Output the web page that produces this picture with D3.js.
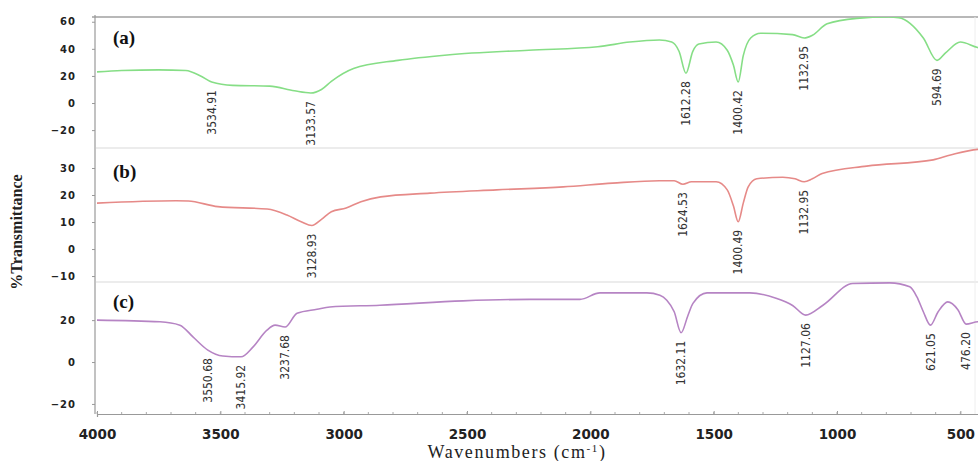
<!DOCTYPE html>
<html>
<head>
<meta charset="utf-8">
<script src="https://cdn.jsdelivr.net/npm/d3@7"></script>
<style>
  body { margin: 0; background: #fff; }
  svg { display: block; }
</style>
</head>
<body>
<svg id="chart" width="978" height="461"></svg>
<script>
// spectrum (a) - green
var wnA = [4000, 3900, 3750, 3640, 3580, 3534.91, 3450, 3300, 3200, 3133.57, 3090, 3050, 2960, 2780, 2580, 2250, 1970, 1840, 1720, 1670, 1640, 1612.28, 1585, 1560, 1490, 1445, 1420, 1400.42, 1380, 1350, 1310, 1180, 1132.95, 1100, 1040, 920, 790, 750, 650, 594.69, 560, 500, 430, 400];
var valA = [23, 24, 24.5, 24, 20, 15.5, 13, 12.5, 9, 7.4, 10, 16, 25.5, 31.5, 35.5, 39, 41.5, 45, 46.5, 45, 38, 22, 38, 43.5, 45, 39, 28, 15.5, 35, 48, 51.5, 50.5, 48, 50, 58.5, 62.5, 63.5, 63, 48, 31.5, 37, 45, 41, 40];

// spectrum (b) - red
var wnB = [4000, 3680, 3630, 3510, 3310, 3230, 3170, 3128.93, 3090, 3050, 2990, 2930, 2850, 2650, 2380, 2110, 1910, 1720, 1660, 1624.53, 1590, 1490, 1445, 1420, 1400.49, 1380, 1360, 1325, 1220, 1170, 1132.95, 1100, 1060, 880, 610, 540, 430, 400];
var valB = [17, 17.9, 17.8, 15.7, 14.8, 12.6, 10, 8.7, 11, 13.8, 15.2, 17.5, 19.3, 20.7, 21.9, 23, 24.4, 25.3, 25.3, 24, 24.9, 24.9, 21.9, 16, 10.1, 17, 23, 26, 26.6, 26, 24.9, 26, 28, 30.7, 33, 34.8, 36.9, 37];

// spectrum (c) - purple
var wnC = [4000, 3745, 3664, 3611, 3550.68, 3490, 3415.92, 3368, 3311, 3278, 3237.68, 3189, 3108, 3056, 2853, 2516, 2245, 2042, 1961, 1771, 1718, 1690, 1660, 1632.11, 1605, 1584, 1527, 1353, 1244, 1180, 1127.06, 1057, 936, 786, 705, 676, 650, 621.05, 590, 551, 510, 476.2, 429, 400];
var valC = [20, 19.2, 17.6, 12, 5.7, 2.9, 2.5, 7.1, 15.2, 17.6, 16.7, 23.3, 25.2, 26.3, 27.1, 29.2, 29.9, 29.9, 33, 33, 31.9, 29.5, 24, 14, 22, 28, 33, 33, 30.3, 27, 22.4, 27.1, 37.5, 37.8, 35.9, 31.1, 24, 17.6, 24, 28.7, 25, 18.1, 19.2, 19];

// labelled peaks
var peaksA = ["3534.91", "3133.57", "1612.28", "1400.42", "1132.95", "594.69"];
var peaksB = ["3128.93", "1624.53", "1400.49", "1132.95"];
var peaksC = ["3550.68", "3415.92", "3237.68", "1632.11", "1127.06", "621.05", "476.20"];

var xTicks = [4000, 3500, 3000, 2500, 2000, 1500, 1000, 500];
var yTicksA = [-20, 0, 20, 40, 60];
var yTicksB = [-10, 0, 10, 20, 30];
var yTicksC = [-20, 0, 20];

var svg = d3.select("#chart");

var x = d3.scaleLinear().domain([4000, 400]).range([97, 985]);

var panels = [
  {name: "(a)", wn: wnA, val: valA, peaks: peaksA, ticks: yTicksA, dom: [-33.2, 63.5], rng: [148, 17], color: "#86de86", labelY: 44},
  {name: "(b)", wn: wnB, val: valB, peaks: peaksB, ticks: yTicksB, dom: [-12.2, 37.4], rng: [282, 148], color: "#e68a88", labelY: 178},
  {name: "(c)", wn: wnC, val: valC, peaks: peaksC, ticks: yTicksC, dom: [-24.8, 38.2], rng: [414, 282], color: "#b684c4", labelY: 308}
];

svg.append("defs").append("clipPath").attr("id", "plotclip")
  .append("rect").attr("x", 96).attr("y", 17).attr("width", 882).attr("height", 397);

// faint panel separators and frame
svg.append("line").attr("x1", 92).attr("x2", 978).attr("y1", 17).attr("y2", 17)
  .attr("stroke", "#a0a0a0").attr("stroke-width", 1.5);
[148, 282].forEach(function(yy) {
  svg.append("line").attr("x1", 96).attr("x2", 978).attr("y1", yy).attr("y2", yy)
    .attr("stroke", "#ececec").attr("stroke-width", 2);
});
svg.append("line").attr("x1", 975).attr("x2", 975).attr("y1", 17).attr("y2", 414)
  .attr("stroke", "#eeeeee").attr("stroke-width", 1);

panels.forEach(function(p) {
  var y = d3.scaleLinear().domain(p.dom).range(p.rng);
  var pts = p.wn.map(function(w, i) { return [w, p.val[i]]; });

  var yAxis = svg.append("g")
    .attr("transform", "translate(95,0)")
    .call(d3.axisLeft(y).tickValues(p.ticks).tickSize(3).tickPadding(16).tickFormat(d3.format("d")));
  yAxis.select(".domain").remove();
  yAxis.selectAll("line").attr("stroke", "#999");
  yAxis.selectAll("text")
    .style("font-family", "'DejaVu Sans', Verdana, sans-serif")
    .style("font-weight", "bold")
    .style("font-size", "10px")
    .style("letter-spacing", "1px")
    .attr("fill", "#222");

  var line = d3.line()
    .x(function(d) { return x(d[0]); })
    .y(function(d) { return y(d[1]); })
    .curve(d3.curveMonotoneX);

  svg.append("path")
    .datum(pts)
    .attr("clip-path", "url(#plotclip)")
    .attr("fill", "none")
    .attr("stroke", p.color)
    .attr("stroke-width", 1.6)
    .attr("d", line);

  // peak labels, rotated, hanging under each minimum
  p.peaks.forEach(function(lbl) {
    var w = +lbl;
    var idx = d3.minIndex(p.wn, function(v) { return Math.abs(v - w); });
    var px = x(w), py = y(p.val[idx]) + 8;
    svg.append("text")
      .attr("transform", "translate(" + px + "," + py + ") rotate(-90)")
      .attr("text-anchor", "end")
      .attr("dy", "0.35em")
      .style("font-family", "'DejaVu Sans Condensed', 'Liberation Sans Narrow', sans-serif")
      .style("font-size", "12px")
      .attr("fill", "#333")
      .text(lbl);
  });

  svg.append("text")
    .attr("x", 113).attr("y", p.labelY)
    .style("font-family", "'Liberation Serif', 'Times New Roman', serif")
    .style("font-weight", "bold")
    .style("font-size", "19px")
    .attr("fill", "#111")
    .text(p.name);
});

// y axis line
svg.append("line").attr("x1", 95).attr("x2", 95).attr("y1", 15).attr("y2", 414)
  .attr("stroke", "#999").attr("stroke-width", 1.2);

// x axis
var xAxis = svg.append("g")
  .attr("transform", "translate(0,414)")
  .call(d3.axisBottom(x).tickValues(xTicks).tickSize(3).tickPadding(12).tickFormat(d3.format("d")));
xAxis.select(".domain").attr("stroke", "#999").attr("stroke-width", 1.2);
xAxis.selectAll("line").attr("stroke", "#999").attr("transform", "translate(0,-3)");
xAxis.selectAll("text")
  .style("font-family", "'DejaVu Sans', Verdana, sans-serif")
  .style("font-weight", "bold")
  .style("font-size", "13.5px")
  .attr("fill", "#222");

svg.append("g").attr("transform", "translate(0,414)")
  .selectAll("line").data(d3.range(4000, 399, -100)).enter().append("line")
  .attr("x1", function(d) { return x(d); }).attr("x2", function(d) { return x(d); })
  .attr("y1", -2).attr("y2", 0).attr("stroke", "#aaa");

// axis titles
svg.append("text")
  .attr("x", 517).attr("y", 458)
  .attr("text-anchor", "middle")
  .style("font-family", "'Liberation Serif', 'Times New Roman', serif")
  .style("font-size", "18px")
  .style("letter-spacing", "1.6px")
  .attr("fill", "#222")
  .text("Wavenumbers (cm")
  .append("tspan").attr("dy", -6).style("font-size", "11px").text("-1")
  .select(function() { return this.parentNode; })
  .append("tspan").attr("dy", 6).text(")");

svg.append("text")
  .attr("transform", "translate(22,232) rotate(-90)")
  .attr("text-anchor", "middle")
  .style("font-family", "'Liberation Serif', 'Times New Roman', serif")
  .style("font-weight", "bold")
  .style("font-size", "16px")
  .attr("fill", "#222")
  .text("%Transmittance");
</script>
</body>
</html>
